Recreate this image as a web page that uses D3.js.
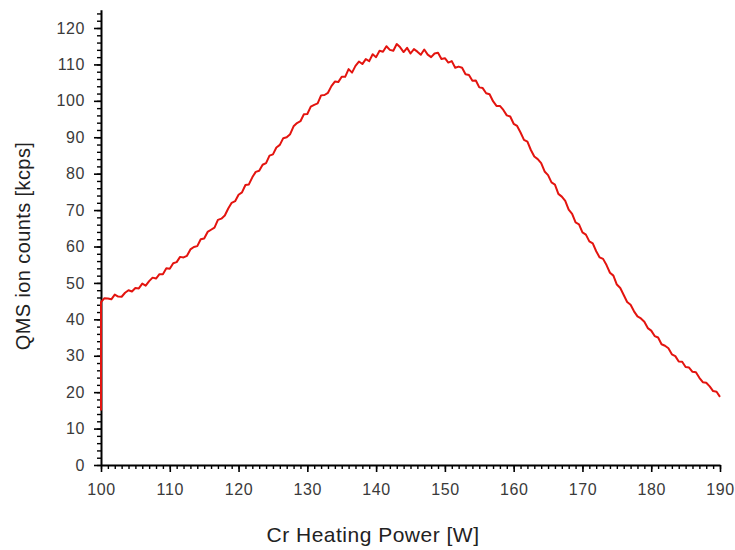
<!DOCTYPE html>
<html>
<head>
<meta charset="utf-8">
<script src="https://cdn.jsdelivr.net/npm/d3@7"></script>
<style>
  body { margin: 0; background: #fff; }
  text { font-family: Arial, "Liberation Sans", sans-serif; }
</style>
</head>
<body>
<script>
// heater power sweep, 0.5 W steps (first point is the start-up spike)
var powerW = [
  100,
  100, 100.5, 101, 101.5, 102, 102.5, 103, 103.5, 104, 104.5,
  105, 105.5, 106, 106.5, 107, 107.5, 108, 108.5, 109, 109.5,
  110, 110.5, 111, 111.5, 112, 112.5, 113, 113.5, 114, 114.5,
  115, 115.5, 116, 116.5, 117, 117.5, 118, 118.5, 119, 119.5,
  120, 120.5, 121, 121.5, 122, 122.5, 123, 123.5, 124, 124.5,
  125, 125.5, 126, 126.5, 127, 127.5, 128, 128.5, 129, 129.5,
  130, 130.5, 131, 131.5, 132, 132.5, 133, 133.5, 134, 134.5,
  135, 135.5, 136, 136.5, 137, 137.5, 138, 138.5, 139, 139.5,
  140, 140.5, 141, 141.5, 142, 142.5, 143, 143.5, 144, 144.5,
  145, 145.5, 146, 146.5, 147, 147.5, 148, 148.5, 149, 149.5,
  150, 150.5, 151, 151.5, 152, 152.5, 153, 153.5, 154, 154.5,
  155, 155.5, 156, 156.5, 157, 157.5, 158, 158.5, 159, 159.5,
  160, 160.5, 161, 161.5, 162, 162.5, 163, 163.5, 164, 164.5,
  165, 165.5, 166, 166.5, 167, 167.5, 168, 168.5, 169, 169.5,
  170, 170.5, 171, 171.5, 172, 172.5, 173, 173.5, 174, 174.5,
  175, 175.5, 176, 176.5, 177, 177.5, 178, 178.5, 179, 179.5,
  180, 180.5, 181, 181.5, 182, 182.5, 183, 183.5, 184, 184.5,
  185, 185.5, 186, 186.5, 187, 187.5, 188, 188.5, 189, 189.5,
  190
];

var ionCounts = [
  15,
  44.7, 45.8, 45.7, 45.5, 46.8, 46.25, 46.2, 47.3, 48.0, 47.65,
  48.6, 48.5, 49.8, 49.25, 50.5, 51.45, 51.2, 52.4, 52.4, 54.0,
  53.9, 55.4, 55.7, 57.15, 57.0, 57.45, 59.2, 59.85, 60.1, 62.0,
  62.2, 64.0, 64.6, 65.2, 67.3, 67.65, 68.5, 70.45, 72.0, 72.45,
  74.2, 74.85, 76.9, 77.05, 79.0, 80.5, 80.8, 82.45, 82.9, 84.95,
  85.3, 87.2, 87.9, 89.75, 90.0, 90.85, 93.0, 93.9, 94.4, 96.3,
  96.4, 98.4, 98.9, 99.3, 101.5, 101.6, 102.2, 104.05, 105.3, 105.15,
  106.6, 106.6, 108.7, 107.75, 109.6, 110.8, 110.1, 111.45, 110.9, 112.8,
  112.0, 113.75, 113.5, 115.0, 114.0, 113.75, 115.6, 114.7, 113.4, 114.55,
  113.0, 114.2, 113.5, 112.65, 114.1, 112.7, 112.0, 113.0, 113.2, 111.5,
  111.7, 110.5, 110.9, 109.1, 109.4, 109.1, 107.3, 107.1, 105.5, 105.6,
  103.7, 103.5, 102.1, 101.8, 99.9, 98.6, 98.6, 97.5, 96.0, 95.7,
  93.7, 93.1, 91.3, 89.3, 88.8, 86.5, 84.7, 84.0, 82.9, 80.6,
  79.6, 77.6, 77.0, 74.45, 73.7, 72.5, 70.1, 68.95, 66.6, 66.1,
  63.9, 63.25, 61.4, 60.85, 58.7, 57.0, 56.6, 54.9, 52.8, 52.0,
  49.55, 48.6, 46.7, 44.75, 44.0, 42.2, 40.8, 40.25, 39.35, 37.6,
  36.9, 35.4, 35.0, 33.15, 32.75, 32.05, 30.4, 29.9, 28.4, 28.35,
  26.9, 26.75, 25.6, 25.45, 23.95, 22.75, 22.6, 21.6, 20.3, 20.1,
  18.7
];

var xTicks = [100, 110, 120, 130, 140, 150, 160, 170, 180, 190];
var yTicks = [0, 10, 20, 30, 40, 50, 60, 70, 80, 90, 100, 110, 120];

var width = 735, height = 550;

var x = d3.scaleLinear().domain([100, 190]).range([101, 720]);
var y = d3.scaleLinear().domain([0, 125]).range([465, 9.8]);

var svg = d3.select('body').append('svg')
    .attr('width', width)
    .attr('height', height);

// minor ticks first so the major ones sit on top
svg.append('g')
    .attr('transform', 'translate(0,465)')
    .call(d3.axisBottom(x).tickValues(d3.range(100, 190.1, 1)).tickSize(4).tickFormat(''))
    .call(function (g) { g.select('.domain').remove(); })
    .selectAll('line').attr('stroke', '#000').attr('stroke-width', 1.4);

svg.append('g')
    .attr('transform', 'translate(101,0)')
    .call(d3.axisLeft(y).tickValues(d3.range(0, 125, 2)).tickSize(4).tickFormat(''))
    .call(function (g) { g.select('.domain').remove(); })
    .selectAll('line').attr('stroke', '#000').attr('stroke-width', 1.4);

var xAxis = svg.append('g')
    .attr('transform', 'translate(0,465)')
    .call(d3.axisBottom(x).tickValues(xTicks).tickSize(7).tickSizeOuter(0).tickPadding(12));

var yAxis = svg.append('g')
    .attr('transform', 'translate(101,0)')
    .call(d3.axisLeft(y).tickValues(yTicks).tickSize(7).tickSizeOuter(0).tickPadding(9));

[xAxis, yAxis].forEach(function (g) {
    g.select('.domain').attr('stroke', '#000').attr('stroke-width', 2);
    g.selectAll('.tick line').attr('stroke', '#000').attr('stroke-width', 1.6);
    g.selectAll('.tick text')
        .attr('fill', '#3a3a3a')
        .style('font-size', '16px')
        .style('letter-spacing', '0.6px');
});

var line = d3.line()
    .x(function (d, i) { return x(powerW[i]); })
    .y(function (d) { return y(d); });

svg.append('path')
    .datum(ionCounts)
    .attr('fill', 'none')
    .attr('stroke', '#e3140f')
    .attr('stroke-width', 2)
    .attr('stroke-linejoin', 'round')
    .attr('d', line);

svg.append('text')
    .attr('x', 373)
    .attr('y', 542)
    .attr('text-anchor', 'middle')
    .attr('fill', '#222')
    .style('font-size', '21px')
    .style('letter-spacing', '0.5px')
    .text('Cr Heating Power [W]');

svg.append('text')
    .attr('transform', 'translate(30,246) rotate(-90)')
    .attr('text-anchor', 'middle')
    .attr('fill', '#222')
    .style('font-size', '20px')
    .style('letter-spacing', '0.4px')
    .text('QMS ion counts [kcps]');
</script>
</body>
</html>
